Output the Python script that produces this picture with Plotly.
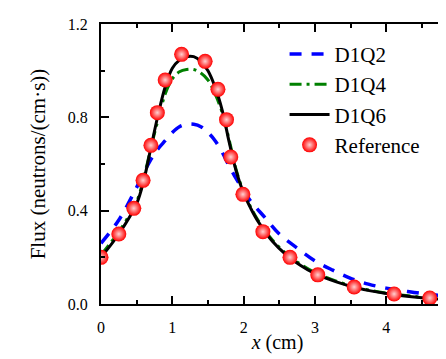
import plotly.graph_objects as go

# D1Q2 (blue dashed)
x_q2 = [0.0, 0.25, 0.5, 0.7, 0.8, 0.9, 1.0, 1.1, 1.2, 1.3, 1.4, 1.5, 1.6, 1.7, 1.8, 1.9, 2.0, 2.1, 2.3, 2.5, 2.75, 3.0, 3.25, 3.5, 3.75, 4.0, 4.25, 4.5, 4.75, 4.95]
y_q2 = [0.26, 0.36, 0.50, 0.62, 0.665, 0.70, 0.735, 0.76, 0.77, 0.77, 0.76, 0.735, 0.70, 0.65, 0.59, 0.535, 0.485, 0.44, 0.37, 0.30, 0.24, 0.185, 0.145, 0.11, 0.085, 0.068, 0.056, 0.045, 0.037, 0.03]

# D1Q4 (green dash-dot)
x_q4 = [0.0, 0.25, 0.5, 0.6, 0.7, 0.8, 0.9, 1.0, 1.1, 1.2, 1.3, 1.4, 1.5, 1.6, 1.7, 1.8, 1.9, 2.0, 2.1, 2.2, 2.4, 2.6, 2.8, 3.0, 3.3, 3.6, 4.0, 4.5, 4.95]
y_q4 = [0.21, 0.31, 0.44, 0.54, 0.67, 0.79, 0.90, 0.965, 0.995, 1.005, 1.005, 0.99, 0.96, 0.90, 0.82, 0.70, 0.57, 0.48, 0.415, 0.36, 0.275, 0.215, 0.17, 0.135, 0.098, 0.07, 0.047, 0.029, 0.019]

# D1Q6 (black solid)
x_q6 = [0.0, 0.25, 0.5, 0.6, 0.7, 0.8, 0.9, 1.0, 1.1, 1.2, 1.3, 1.4, 1.5, 1.6, 1.7, 1.8, 1.9, 2.0, 2.1, 2.2, 2.4, 2.6, 2.8, 3.0, 3.3, 3.6, 4.0, 4.5, 4.95]
y_q6 = [0.20, 0.30, 0.43, 0.53, 0.67, 0.81, 0.93, 1.01, 1.045, 1.06, 1.06, 1.04, 1.00, 0.93, 0.83, 0.69, 0.565, 0.475, 0.41, 0.355, 0.27, 0.21, 0.165, 0.13, 0.095, 0.068, 0.045, 0.027, 0.017]

# Reference points
x_ref = [0.0, 0.25, 0.46, 0.59, 0.70, 0.79, 0.90, 1.13, 1.46, 1.64, 1.76, 1.82, 1.99, 2.27, 2.65, 3.04, 3.55, 4.11, 4.61]
y_ref = [0.20, 0.30, 0.41, 0.53, 0.68, 0.82, 0.96, 1.07, 1.04, 0.92, 0.79, 0.63, 0.47, 0.31, 0.20, 0.125, 0.073, 0.043, 0.026]

font_family = "Liberation Serif"

fig = go.Figure()
fig.add_trace(go.Scatter(x=x_q2, y=y_q2, mode="lines", name="D1Q2",
                         line=dict(color="#0000ff", width=3.5, dash="12px,10px"), line_shape="spline"))
fig.add_trace(go.Scatter(x=x_q4, y=y_q4, mode="lines", name="D1Q4",
                         line=dict(color="#008000", width=3, dash="12px,5px,3px,5px"), line_shape="spline"))
fig.add_trace(go.Scatter(x=x_q6, y=y_q6, mode="lines", name="D1Q6",
                         line=dict(color="#000000", width=3), line_shape="spline"))
fig.add_trace(go.Scatter(x=x_ref, y=y_ref, mode="markers", name="Reference",
                         marker=dict(color="#ff0000", size=15, line=dict(width=0),
                                     gradient=dict(type="radial", color="#ffd0d0"))))

fig.update_layout(
    width=446, height=359,
    margin=dict(l=93, r=0, t=16, b=63),
    paper_bgcolor="white", plot_bgcolor="white",
    font=dict(family=font_family, size=16, color="black"),
    showlegend=True,
    legend=dict(x=0.52, y=0.965, xanchor="left", yanchor="top",
                font=dict(family=font_family, size=21),
                bgcolor="rgba(0,0,0,0)", borderwidth=0,
                itemwidth=40, tracegroupgap=0),
    xaxis=dict(range=[0, 4.95], tickmode="array", tickvals=[0, 1, 2, 3, 4],
               ticktext=["0", "1", "2", "3", "4"],
               ticks="inside", ticklen=8, tickwidth=1.5, tickcolor="black",
               minor=dict(tickmode="array", tickvals=[0.5, 1.5, 2.5, 3.5, 4.5], ticks="inside", ticklen=4, tickwidth=1.5, tickcolor="black"),
               showline=True, linecolor="black", linewidth=2, mirror="ticks",
               showgrid=False, zeroline=False, automargin=False,
               tickfont=dict(family=font_family, size=16),
               ticklabelstandoff=8,
               title=dict(text="<i>x</i> (cm)", font=dict(family=font_family, size=20), standoff=0)),
    yaxis=dict(range=[0, 1.2], tickmode="array", tickvals=[0, 0.4, 0.8, 1.2],
               ticktext=["0.0", "0.4", "0.8", "1.2"],
               ticks="inside", ticklen=8, tickwidth=1.5, tickcolor="black",
               minor=dict(tickmode="array", tickvals=[0.2, 0.6, 1.0], ticks="inside", ticklen=4, tickwidth=1.5, tickcolor="black"),
               showline=True, linecolor="black", linewidth=2, mirror=False,
               showgrid=False, zeroline=False, automargin=False,
               tickfont=dict(family=font_family, size=16),
               ticklabelstandoff=8,
               title=dict(text="Flux (neutrons/(cm·s))", font=dict(family=font_family, size=21), standoff=16)),
)

fig.write_html("out.html")
